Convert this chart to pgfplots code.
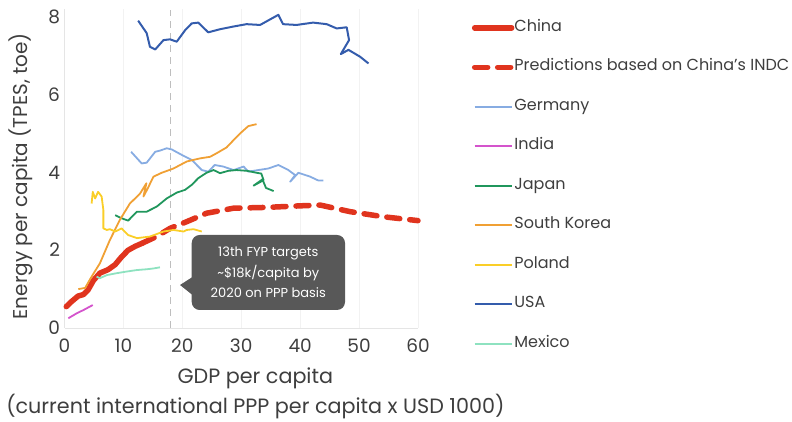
\documentclass[border=0pt]{standalone}
\usepackage{fontspec}
\setmainfont{Poppins}
\usepackage{pgfplots}
\pgfplotsset{compat=1.18}

\definecolor{chinared}{RGB}{224,52,30}
\definecolor{germany}{RGB}{135,172,226}
\definecolor{india}{RGB}{212,84,204}
\definecolor{japan}{RGB}{32,150,92}
\definecolor{korea}{RGB}{240,160,52}
\definecolor{poland}{RGB}{250,206,40}
\definecolor{usa}{RGB}{52,92,172}
\definecolor{mexico}{RGB}{142,226,192}
\definecolor{txt}{RGB}{62,62,62}
\definecolor{annot}{RGB}{88,88,88}
\definecolor{vline}{RGB}{190,190,190}

\begin{document}
\begin{tikzpicture}[x=1pt,y=1pt]
\path[use as bounding box] (0,0) rectangle (792,422);
\begin{axis}[
  at={(64.5pt,94pt)}, anchor=south west,
  scale only axis, width=353.5pt, height=319pt,
  xmin=0, xmax=60, ymin=0, ymax=8.2,
  xtick={0,10,...,60}, ytick={0,2,4,6,8},
  axis x line*=bottom, axis y line*=left,
  axis line style={draw=black!10, line width=0.8pt},
  major tick length=0pt,
  xmajorgrids, grid style={black!5},
  tick label style={font=\fontsize{18.5}{20}\selectfont, text=txt},
  /pgf/number format/assume math mode=true,
  xticklabel style={yshift=-7pt},
  yticklabel style={xshift=-1pt},
  xlabel={GDP per capita\\(current international PPP per capita x USD 1000)},
  xlabel style={at={(axis description cs:0.54,-0.204)}, anchor=center,
    align=center, font=\fontsize{20.7}{30}\selectfont, text=txt},
  ylabel={Energy per capita (TPES, toe)},
  ylabel style={at={(axis description cs:-0.124,0.476)}, anchor=center,
    font=\fontsize{20}{22}\selectfont, text=txt},
  clip=false,
  legend cell align=left,
  legend image code/.code={\draw[#1] (0pt,0pt) -- (37pt,0pt);},
  legend style={at={(axis description cs:1.152,0.962)}, anchor=north west,
    draw=none, fill=none, inner sep=0pt, row sep=26.5pt,
    font=\fontsize{16}{18}\selectfont, text=txt,
    nodes={inner sep=0pt, text height=10pt, text depth=3pt},
    /tikz/every even column/.append style={column sep=6pt}},
]
\draw[vline, dash pattern=on 7pt off 5pt, line width=1.3pt] (axis cs:18,0) -- (axis cs:18,8.17);

\addplot[chinared, line width=5.5pt, line cap=round, line join=round] coordinates {
(0.3,0.55)(1.2,0.68)(2.3,0.82)(3.2,0.86)(4.0,0.98)(4.9,1.22)(6.0,1.41)(7.4,1.5)
(8.6,1.63)(9.7,1.83)(10.8,2.0)(12.0,2.1)(13.2,2.18)};
\addlegendentry{China}

\addplot[chinared, line width=5.5pt, line cap=round, dash pattern=on 13pt off 10pt] coordinates {
(13.2,2.18)(15.6,2.35)(17.9,2.56)(20.7,2.73)(24.1,2.95)(28.7,3.08)(34.3,3.1)
(40,3.14)(43.4,3.16)(48.5,2.99)(54.1,2.86)(60,2.76)};
\addlegendentry{Predictions based on China’s INDC}

\addplot[germany, line width=1.8pt, line join=round] coordinates {
(11.3,4.53)(13.1,4.23)(13.95,4.25)(15.4,4.53)(16.2,4.56)(17.35,4.62)(18.2,4.59)
(19.9,4.45)(21.6,4.32)(23.3,4.06)(24.4,4.02)(25.5,4.19)(26.95,4.15)(28.7,4.06)
(30.4,4.15)(31.2,4.02)(32.9,4.06)(34.6,4.1)(36.3,4.19)(38,4.06)(39.15,3.93)
(38.3,3.76)(39.7,3.99)(41.7,3.89)(43.1,3.79)(43.95,3.79)};
\addlegendentry{Germany}

\addplot[india, line width=1.8pt] coordinates {
(0.65,0.25)(2.1,0.38)(3.2,0.46)(4.8,0.59)};
\addlegendentry{India}

\addplot[japan, line width=1.8pt, line join=round] coordinates {
(8.6,2.9)(9.7,2.82)(10.8,2.76)(12.3,2.99)(13.95,2.99)(15.65,3.12)(17.35,3.33)
(19.05,3.48)(20.45,3.55)(21.6,3.68)(22.7,3.85)(24.1,3.99)(25.3,4.06)(26.4,3.98)
(27.8,4.04)(29.2,4.06)(30.95,4.04)(32.6,3.99)(33.4,3.97)(33.8,3.8)(32.1,3.66)
(33.6,3.82)(34.2,3.6)(35.5,3.52)};
\addlegendentry{Japan}

\addplot[korea, line width=1.8pt, line join=round] coordinates {
(2.35,1.0)(3.5,1.03)(4.6,1.32)(6.0,1.66)(7.7,2.26)(9.4,2.78)(11.1,3.2)(12.8,3.45)
(13.9,3.72)(13.4,3.38)(14.0,3.55)(15.1,3.89)(16.5,3.99)(18.5,4.1)(20.75,4.28)
(23,4.36)(24.7,4.4)(25.8,4.49)(27.5,4.64)(28.7,4.83)(29.8,5.0)(31.2,5.19)(32.6,5.24)};
\addlegendentry{South Korea}

\addplot[poland, line width=1.8pt, line join=round] coordinates {
(4.6,3.2)(4.8,3.5)(5.2,3.33)(5.7,3.5)(6.3,3.38)(6.6,3.03)(6.6,2.56)(7.2,2.52)
(7.7,2.54)(8.6,2.48)(9.7,2.56)(10.8,2.39)(12.3,2.31)(14.5,2.35)(16.8,2.48)
(18.5,2.52)(20.2,2.48)(20.75,2.52)(21.9,2.54)(23.3,2.48)};
\addlegendentry{Poland}

\addplot[usa, line width=2pt, line join=round] coordinates {
(12.5,7.9)(13.95,7.58)(14.5,7.23)(15.4,7.16)(16.8,7.4)(17.9,7.42)(19.05,7.36)
(20.5,7.66)(21.6,7.83)(22.7,7.85)(24.4,7.6)(26.4,7.68)(28.7,7.75)(30.9,7.81)
(33.2,7.79)(36.3,8.05)(37.1,7.81)(39.4,7.79)(42.2,7.85)(44.5,7.81)(46.2,7.7)
(47.9,7.73)(48.3,7.4)(46.9,7.04)(48.2,7.15)(50.2,6.97)(51.6,6.8)};
\addlegendentry{USA}

\addplot[mexico, line width=1.8pt, line join=round] coordinates {
(5.45,1.32)(6.0,1.28)(7.2,1.36)(8.9,1.41)(10.5,1.45)(12.3,1.49)(13.95,1.51)
(15.1,1.53)(16.2,1.56)};
\addlegendentry{Mexico}
\end{axis}

\fill[annot, rounded corners=8pt] (191.7,187) rectangle (345,112);
\fill[annot] (192.5,145) -- (180,137) -- (192.5,127) -- cycle;
\node[align=center, text=white, font=\fontsize{13}{20.7}\selectfont] at (268.3,149.5)
  {13th FYP targets\\\textasciitilde\$18k/capita by\\2020 on PPP basis};
\end{tikzpicture}
\end{document}
